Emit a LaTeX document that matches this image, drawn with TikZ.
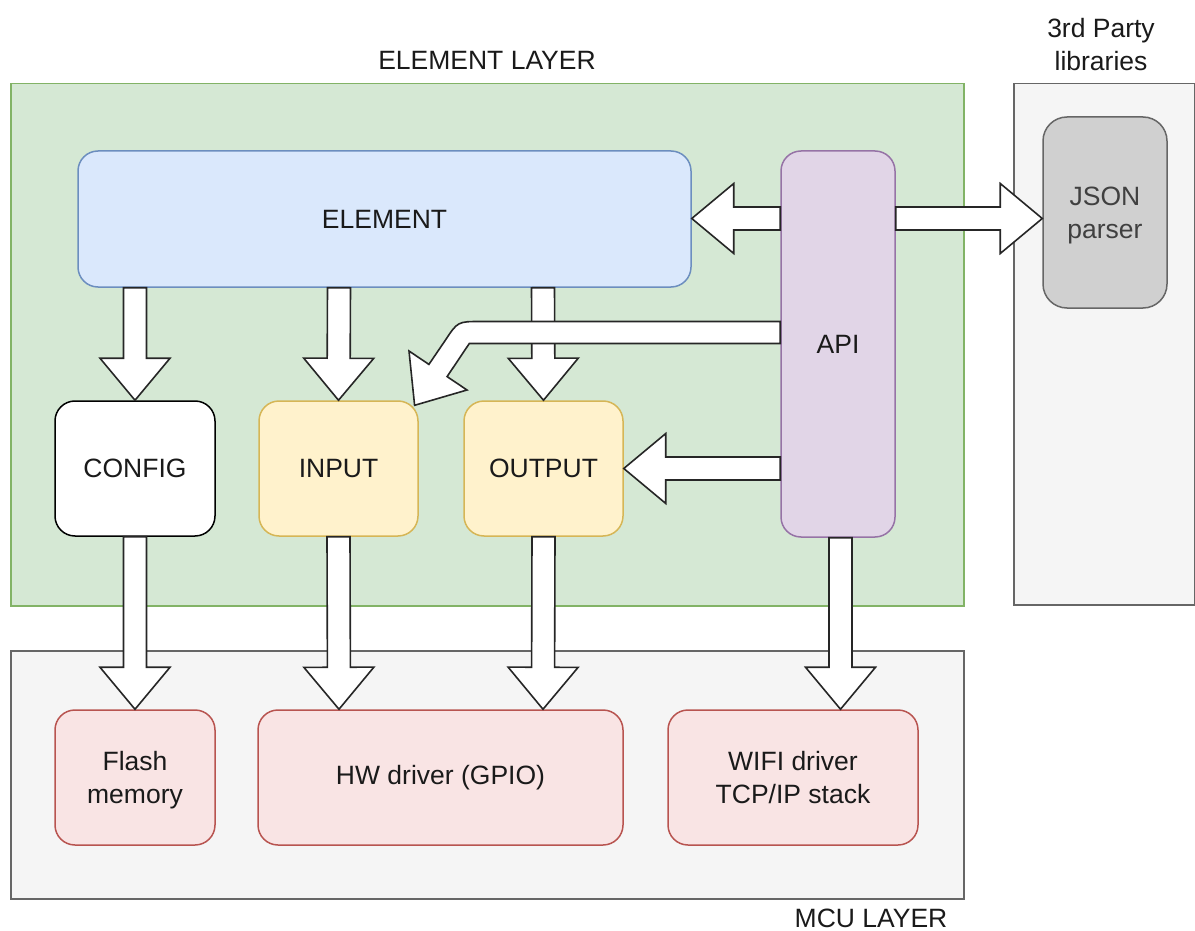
\documentclass[tikz,border=0pt]{standalone}
\usepackage{fontspec}
\setmainfont{Liberation Sans}
\usetikzlibrary{calc}

\definecolor{elemfill}{HTML}{D5E8D4}
\definecolor{elemline}{HTML}{82B366}
\definecolor{greyfill}{HTML}{F5F5F5}
\definecolor{greyline}{HTML}{666666}
\definecolor{bluefill}{HTML}{DAE8FC}
\definecolor{blueline}{HTML}{6C8EBF}
\definecolor{purplefill}{HTML}{E1D5E7}
\definecolor{purpleline}{HTML}{9673A6}
\definecolor{yellowfill}{HTML}{FFF2CC}
\definecolor{yellowline}{HTML}{D6B656}
\definecolor{redfill}{HTML}{F9E4E4}
\definecolor{redline}{HTML}{B85450}
\definecolor{libfill}{HTML}{D0D0D0}
\definecolor{txt}{HTML}{1A1A1A}

% Block ("flex") arrow from #1 to #2: shaft half-width 11.5, head half-width 35, head length 42
\newcommand\flexarrow[2]{%
  \draw[flex] let \p1=(#1), \p2=(#2),
      \n1={atan2(\y2-\y1,\x2-\x1)}, \n2={veclen(\x2-\x1,\y2-\y1)} in
    [shift={(\p1)}, rotate=\n1]
    (0pt,-11.5pt) -- ({\n2-42pt},-11.5pt) -- ({\n2-42pt},-35pt) -- ({\n2},0pt)
    -- ({\n2-42pt},35pt) -- ({\n2-42pt},11.5pt) -- (0pt,11.5pt) -- cycle;}

\tikzset{
  every node/.style={font=\fontsize{26.5}{33}\selectfont, text=txt},
  layer/.style={draw, line width=1.5pt, inner sep=0pt},
  box/.style={draw, line width=1.5pt, rounded corners=20pt, inner sep=0pt, align=center},
  twoline/.style={text depth=0pt},
  flex/.style={draw=black!85, fill=white, line width=1.6pt, line join=miter},
  caption/.style={align=center, inner sep=0pt},
}

\begin{document}
\begin{tikzpicture}[x=1pt, y=-1pt]
\useasboundingbox (0,0) rectangle (1195,931);

% layers
\node[layer, fill=elemfill, draw=elemline, minimum width=953pt, minimum height=522pt, anchor=north west] (elemlayer) at (10,83) {};
\node[layer, fill=greyfill, draw=greyline, minimum width=181pt, minimum height=521pt, anchor=north west] (libs) at (1013,83) {};
\node[layer, fill=greyfill, draw=greyline, minimum width=953pt, minimum height=248pt, anchor=north west] (mcu) at (10,650) {};

% captions
\node[caption] (elemcap) at (487,60) {ELEMENT LAYER};
\node[caption] (libcap) at (1101,45) {3rd Party\\libraries};
\node[caption] (mcucap) at (871,918) {MCU LAYER};

% element layer boxes
\node[box, fill=bluefill, draw=blueline, minimum width=613pt, minimum height=136pt] (element) at (384.5,219) {ELEMENT};
\node[box, fill=purplefill, draw=purpleline, minimum width=114pt, minimum height=386pt] (api) at (838,344) {API};
\node[box, fill=white, draw=black, minimum width=160pt, minimum height=135pt] (config) at (135,468.5) {CONFIG};
\node[box, fill=yellowfill, draw=yellowline, minimum width=159pt, minimum height=135pt] (input) at (338.5,468.5) {INPUT};
\node[box, fill=yellowfill, draw=yellowline, minimum width=159pt, minimum height=135pt] (output) at (543.5,468.5) {OUTPUT};

% third-party library
\node[box, twoline, fill=libfill, draw=greyline, rounded corners=24pt, minimum width=124pt, minimum height=191pt, text=black!75] (json) at (1105,212.5) {JSON\\parser};

% MCU layer boxes
\node[box, twoline, fill=redfill, draw=redline, minimum width=160pt, minimum height=135pt] (flash) at (135,777.5) {Flash\\memory};
\node[box, fill=redfill, draw=redline, minimum width=365pt, minimum height=135pt] (hw) at (440.5,777.5) {HW driver (GPIO)};
\node[box, twoline, fill=redfill, draw=redline, minimum width=250pt, minimum height=135pt] (wifi) at (793,777.5) {WIFI driver\\TCP/IP stack};

% arrows
\coordinate (cx) at (135,0);
\coordinate (ix) at (339,0);
\coordinate (ox) at (543,0);
\coordinate (ax) at (840.5,0);
\coordinate (ey) at (0,218.5);
\coordinate (oy) at (0,468.5);

\flexarrow{element.south -| cx}{config.north}
\flexarrow{element.south -| ix}{input.north}
\flexarrow{element.south -| ox}{output.north}
\flexarrow{api.west |- ey}{element.east |- ey}
\flexarrow{api.east |- ey}{json.west |- ey}
\flexarrow{api.west |- oy}{output.east |- oy}
\flexarrow{config.south}{flash.north}
\flexarrow{input.south}{hw.north -| ix}
\flexarrow{output.south}{hw.north -| ox}
\flexarrow{api.south -| ax}{wifi.north -| ax}

% bent arrow from API down to the INPUT corner
\coordinate (bendtip) at (414.6,405.3);
\draw[flex] (api.west |- 0,321.5) -- (480.7,321.5)
  .. controls (457.7,321.5) .. (445.1,340.6)
  -- (428.9,364.4) -- (409,351) -- (bendtip) -- (467,390) -- (447.1,376.6)
  -- (469.3,343.5) -- (api.west |- 0,343.5) -- cycle;
\end{tikzpicture}
\end{document}
